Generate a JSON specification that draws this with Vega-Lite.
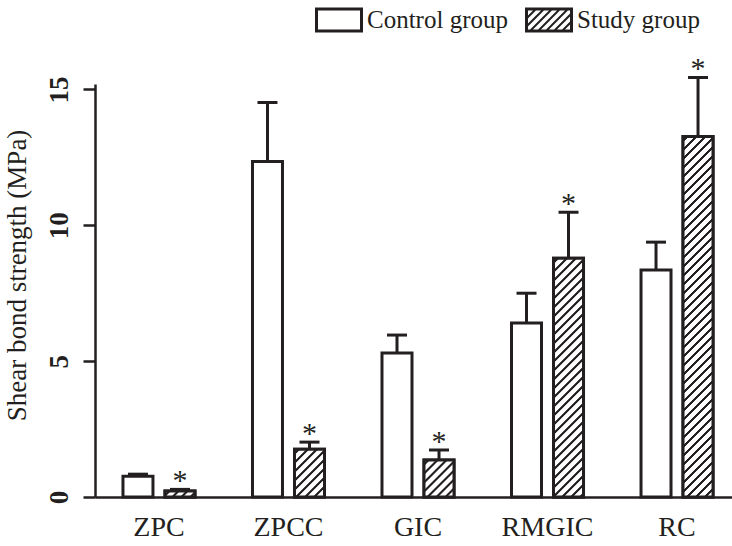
{
  "$schema": "https://vega.github.io/schema/vega-lite/v6.json",
  "width": 637,
  "height": 413,
  "autosize": {"type": "none"},
  "padding": {"left": 95, "top": 84, "right": 0, "bottom": 49},
  "background": "white",
  "config": {
    "view": {"stroke": null},
    "font": "Liberation Serif",
    "axis": {"domainColor": "#231f20", "tickColor": "#231f20", "labelColor": "#231f20", "titleColor": "#231f20", "grid": false, "domainWidth": 2.5, "tickWidth": 2.5}
  },
  "data": {
    "values": [
      {"material": "ZPC", "group": "Control group", "mean": 0.76, "upper": 0.84, "star": ""},
      {"material": "ZPC", "group": "Study group", "mean": 0.22, "upper": 0.28, "star": "*"},
      {"material": "ZPCC", "group": "Control group", "mean": 12.35, "upper": 14.52, "star": ""},
      {"material": "ZPCC", "group": "Study group", "mean": 1.76, "upper": 2.02, "star": "*"},
      {"material": "GIC", "group": "Control group", "mean": 5.3, "upper": 5.96, "star": ""},
      {"material": "GIC", "group": "Study group", "mean": 1.36, "upper": 1.73, "star": "*"},
      {"material": "RMGIC", "group": "Control group", "mean": 6.4, "upper": 7.5, "star": ""},
      {"material": "RMGIC", "group": "Study group", "mean": 8.79, "upper": 10.48, "star": "*"},
      {"material": "RC", "group": "Control group", "mean": 8.35, "upper": 9.38, "star": ""},
      {"material": "RC", "group": "Study group", "mean": 13.27, "upper": 15.44, "star": "*"}
    ]
  },
  "encoding": {
    "x": {
      "field": "material", "type": "nominal", "sort": null,
      "scale": {"range": [0, 646], "paddingInner": 0.444, "paddingOuter": 0.216},
      "axis": {"title": null, "labelAngle": 0, "ticks": false, "tickSize": 0, "labelPadding": 38, "labelBaseline": "alphabetic", "labelFontSize": 28, "labelFont": "Liberation Serif", "labelColor": "#231f20"}
    },
    "xOffset": {"field": "group", "type": "nominal", "sort": ["Control group", "Study group"], "scale": {"paddingInner": 0.286, "paddingOuter": 0}}
  },
  "layer": [
    {
      "mark": {"type": "bar", "stroke": "#231f20", "strokeWidth": 3, "fill": "#ffffff", "opacity": 1},
      "encoding": {
        "y": {
          "field": "mean", "type": "quantitative",
          "scale": {"domain": [0, 15.2], "nice": false},
          "axis": {"title": "Shear bond strength (MPa)", "values": [0, 5, 10, 15], "tickSize": 12, "labelAngle": -90, "labelAlign": "center", "labelBaseline": "alphabetic", "labelPadding": 16, "labelFontSize": 27, "labelFontWeight": "bold", "labelFont": "Liberation Serif", "titleFont": "Liberation Serif", "titleFontSize": 27, "titleFontWeight": "normal", "titleAngle": -90, "titleX": -70, "titleY": 191, "titleAlign": "center", "titleBaseline": "alphabetic"}
        }
      }
    },
    {
      "mark": {"type": "point", "filled": true, "color": "#231f20", "opacity": 0, "size": 2304, "strokeWidth": 0},
      "encoding": {
        "y": {"field": "mean", "type": "quantitative"},
        "shape": {
          "field": "group", "type": "nominal",
          "scale": {"domain": ["Control group", "Study group"], "range": [
            "M-1,-0.52H1V0.52H-1ZM-0.875,-0.395V0.395H0.875V-0.395Z",
            "M-1,-0.52H1V0.52H-1ZM-0.875,-0.395V0.395H0.875V-0.395ZM0.335,-0.395L0.455,-0.395L-0.335,0.395L-0.455,0.395ZM0.668,-0.395L0.788,-0.395L-0.002,0.395L-0.122,0.395ZM0.002,-0.395L0.122,-0.395L-0.668,0.395L-0.788,0.395ZM0.95,-0.343L0.95,-0.223L0.332,0.395L0.212,0.395ZM-0.95,0.343L-0.95,0.223L-0.332,-0.395L-0.212,-0.395ZM0.95,-0.01L0.95,0.11L0.665,0.395L0.545,0.395ZM-0.95,0.01L-0.95,-0.11L-0.665,-0.395L-0.545,-0.395Z"
          ]},
          "legend": {
            "title": null, "orient": "none", "direction": "horizontal", "legendX": 220, "legendY": -88,
            "symbolSize": 2304, "symbolOpacity": 1, "symbolStrokeWidth": 0, "symbolFillColor": "#231f20",
            "labelFont": "Liberation Serif", "labelFontSize": 25, "labelColor": "#231f20", "labelOffset": 4, "columnPadding": 17, "labelLimit": 300
          }
        }
      }
    },
    {
      "transform": [{"filter": "datum.group === 'Study group' && datum.material === 'ZPC'"}],
      "mark": {"type": "bar", "stroke": "#231f20", "strokeWidth": 3, "fill": {"gradient": "linear", "x1": 0, "y1": 0, "x2": 12.696, "y2": 2.5297, "stops": [
        {"offset":0.00631,"color":"#fff"},{"offset":0.00884,"color":"#231f20"},{"offset":0.01389,"color":"#231f20"},{"offset":0.01641,"color":"#fff"},
        {"offset":0.02904,"color":"#fff"},{"offset":0.03157,"color":"#231f20"},{"offset":0.03662,"color":"#231f20"},{"offset":0.03914,"color":"#fff"},
        {"offset":0.05177,"color":"#fff"},{"offset":0.05429,"color":"#231f20"},{"offset":0.05934,"color":"#231f20"},{"offset":0.06187,"color":"#fff"},
        {"offset":0.07449,"color":"#fff"},{"offset":0.07702,"color":"#231f20"},{"offset":0.08207,"color":"#231f20"},{"offset":0.08460,"color":"#fff"}
      ]}},
      "encoding": {"y": {"field": "mean", "type": "quantitative"}}
    },
    {
      "transform": [{"filter": "datum.group === 'Study group' && datum.material === 'ZPCC'"}],
      "mark": {"type": "bar", "stroke": "#231f20", "strokeWidth": 3, "fill": {"gradient": "linear", "x1": 0, "y1": 0, "x2": 3.7278, "y2": 5.9423, "stops": [
        {"offset":0.00631,"color":"#fff"},{"offset":0.00884,"color":"#231f20"},{"offset":0.01389,"color":"#231f20"},{"offset":0.01641,"color":"#fff"},
        {"offset":0.02904,"color":"#fff"},{"offset":0.03157,"color":"#231f20"},{"offset":0.03662,"color":"#231f20"},{"offset":0.03914,"color":"#fff"},
        {"offset":0.05177,"color":"#fff"},{"offset":0.05429,"color":"#231f20"},{"offset":0.05934,"color":"#231f20"},{"offset":0.06187,"color":"#fff"},
        {"offset":0.07449,"color":"#fff"},{"offset":0.07702,"color":"#231f20"},{"offset":0.08207,"color":"#231f20"},{"offset":0.08460,"color":"#fff"},
        {"offset":0.09722,"color":"#fff"},{"offset":0.09975,"color":"#231f20"},{"offset":0.10480,"color":"#231f20"},{"offset":0.10732,"color":"#fff"},
        {"offset":0.11995,"color":"#fff"},{"offset":0.12247,"color":"#231f20"},{"offset":0.12753,"color":"#231f20"},{"offset":0.13005,"color":"#fff"},
        {"offset":0.14268,"color":"#fff"},{"offset":0.14520,"color":"#231f20"},{"offset":0.15025,"color":"#231f20"},{"offset":0.15278,"color":"#fff"},
        {"offset":0.16540,"color":"#fff"},{"offset":0.16793,"color":"#231f20"},{"offset":0.17298,"color":"#231f20"},{"offset":0.17551,"color":"#fff"},
        {"offset":0.18813,"color":"#fff"},{"offset":0.19066,"color":"#231f20"},{"offset":0.19571,"color":"#231f20"},{"offset":0.19823,"color":"#fff"}
      ]}},
      "encoding": {"y": {"field": "mean", "type": "quantitative"}}
    },
    {
      "transform": [{"filter": "datum.group === 'Study group' && datum.material === 'GIC'"}],
      "mark": {"type": "bar", "stroke": "#231f20", "strokeWidth": 3, "fill": {"gradient": "linear", "x1": 0, "y1": 0, "x2": 5.2439, "y2": 6.4591, "stops": [
        {"offset":0.00631,"color":"#fff"},{"offset":0.00884,"color":"#231f20"},{"offset":0.01389,"color":"#231f20"},{"offset":0.01641,"color":"#fff"},
        {"offset":0.02904,"color":"#fff"},{"offset":0.03157,"color":"#231f20"},{"offset":0.03662,"color":"#231f20"},{"offset":0.03914,"color":"#fff"},
        {"offset":0.05177,"color":"#fff"},{"offset":0.05429,"color":"#231f20"},{"offset":0.05934,"color":"#231f20"},{"offset":0.06187,"color":"#fff"},
        {"offset":0.07449,"color":"#fff"},{"offset":0.07702,"color":"#231f20"},{"offset":0.08207,"color":"#231f20"},{"offset":0.08460,"color":"#fff"},
        {"offset":0.09722,"color":"#fff"},{"offset":0.09975,"color":"#231f20"},{"offset":0.10480,"color":"#231f20"},{"offset":0.10732,"color":"#fff"},
        {"offset":0.11995,"color":"#fff"},{"offset":0.12247,"color":"#231f20"},{"offset":0.12753,"color":"#231f20"},{"offset":0.13005,"color":"#fff"},
        {"offset":0.14268,"color":"#fff"},{"offset":0.14520,"color":"#231f20"},{"offset":0.15025,"color":"#231f20"},{"offset":0.15278,"color":"#fff"},
        {"offset":0.16540,"color":"#fff"},{"offset":0.16793,"color":"#231f20"},{"offset":0.17298,"color":"#231f20"},{"offset":0.17551,"color":"#fff"}
      ]}},
      "encoding": {"y": {"field": "mean", "type": "quantitative"}}
    },
    {
      "transform": [{"filter": "datum.group === 'Study group' && datum.material === 'RMGIC'"}],
      "mark": {"type": "bar", "stroke": "#231f20", "strokeWidth": 3, "fill": {"gradient": "linear", "x1": 0, "y1": 0, "x2": 0.20503, "y2": 1.6323, "stops": [
        {"offset":0.00631,"color":"#fff"},{"offset":0.00884,"color":"#231f20"},{"offset":0.01389,"color":"#231f20"},{"offset":0.01641,"color":"#fff"},
        {"offset":0.02904,"color":"#fff"},{"offset":0.03157,"color":"#231f20"},{"offset":0.03662,"color":"#231f20"},{"offset":0.03914,"color":"#fff"},
        {"offset":0.05177,"color":"#fff"},{"offset":0.05429,"color":"#231f20"},{"offset":0.05934,"color":"#231f20"},{"offset":0.06187,"color":"#fff"},
        {"offset":0.07449,"color":"#fff"},{"offset":0.07702,"color":"#231f20"},{"offset":0.08207,"color":"#231f20"},{"offset":0.08460,"color":"#fff"},
        {"offset":0.09722,"color":"#fff"},{"offset":0.09975,"color":"#231f20"},{"offset":0.10480,"color":"#231f20"},{"offset":0.10732,"color":"#fff"},
        {"offset":0.11995,"color":"#fff"},{"offset":0.12247,"color":"#231f20"},{"offset":0.12753,"color":"#231f20"},{"offset":0.13005,"color":"#fff"},
        {"offset":0.14268,"color":"#fff"},{"offset":0.14520,"color":"#231f20"},{"offset":0.15025,"color":"#231f20"},{"offset":0.15278,"color":"#fff"},
        {"offset":0.16540,"color":"#fff"},{"offset":0.16793,"color":"#231f20"},{"offset":0.17298,"color":"#231f20"},{"offset":0.17551,"color":"#fff"},
        {"offset":0.18813,"color":"#fff"},{"offset":0.19066,"color":"#231f20"},{"offset":0.19571,"color":"#231f20"},{"offset":0.19823,"color":"#fff"},
        {"offset":0.21086,"color":"#fff"},{"offset":0.21338,"color":"#231f20"},{"offset":0.21843,"color":"#231f20"},{"offset":0.22096,"color":"#fff"},
        {"offset":0.23359,"color":"#fff"},{"offset":0.23611,"color":"#231f20"},{"offset":0.24116,"color":"#231f20"},{"offset":0.24369,"color":"#fff"},
        {"offset":0.25631,"color":"#fff"},{"offset":0.25884,"color":"#231f20"},{"offset":0.26389,"color":"#231f20"},{"offset":0.26641,"color":"#fff"},
        {"offset":0.27904,"color":"#fff"},{"offset":0.28157,"color":"#231f20"},{"offset":0.28662,"color":"#231f20"},{"offset":0.28914,"color":"#fff"},
        {"offset":0.30177,"color":"#fff"},{"offset":0.30429,"color":"#231f20"},{"offset":0.30934,"color":"#231f20"},{"offset":0.31187,"color":"#fff"},
        {"offset":0.32449,"color":"#fff"},{"offset":0.32702,"color":"#231f20"},{"offset":0.33207,"color":"#231f20"},{"offset":0.33460,"color":"#fff"},
        {"offset":0.34722,"color":"#fff"},{"offset":0.34975,"color":"#231f20"},{"offset":0.35480,"color":"#231f20"},{"offset":0.35732,"color":"#fff"},
        {"offset":0.36995,"color":"#fff"},{"offset":0.37247,"color":"#231f20"},{"offset":0.37753,"color":"#231f20"},{"offset":0.38005,"color":"#fff"},
        {"offset":0.39268,"color":"#fff"},{"offset":0.39520,"color":"#231f20"},{"offset":0.40025,"color":"#231f20"},{"offset":0.40278,"color":"#fff"},
        {"offset":0.41540,"color":"#fff"},{"offset":0.41793,"color":"#231f20"},{"offset":0.42298,"color":"#231f20"},{"offset":0.42551,"color":"#fff"},
        {"offset":0.43813,"color":"#fff"},{"offset":0.44066,"color":"#231f20"},{"offset":0.44571,"color":"#231f20"},{"offset":0.44823,"color":"#fff"},
        {"offset":0.46086,"color":"#fff"},{"offset":0.46338,"color":"#231f20"},{"offset":0.46843,"color":"#231f20"},{"offset":0.47096,"color":"#fff"},
        {"offset":0.48359,"color":"#fff"},{"offset":0.48611,"color":"#231f20"},{"offset":0.49116,"color":"#231f20"},{"offset":0.49369,"color":"#fff"},
        {"offset":0.50631,"color":"#fff"},{"offset":0.50884,"color":"#231f20"},{"offset":0.51389,"color":"#231f20"},{"offset":0.51641,"color":"#fff"},
        {"offset":0.52904,"color":"#fff"},{"offset":0.53157,"color":"#231f20"},{"offset":0.53662,"color":"#231f20"},{"offset":0.53914,"color":"#fff"},
        {"offset":0.55177,"color":"#fff"},{"offset":0.55429,"color":"#231f20"},{"offset":0.55934,"color":"#231f20"},{"offset":0.56187,"color":"#fff"},
        {"offset":0.57449,"color":"#fff"},{"offset":0.57702,"color":"#231f20"},{"offset":0.58207,"color":"#231f20"},{"offset":0.58460,"color":"#fff"},
        {"offset":0.59722,"color":"#fff"},{"offset":0.59975,"color":"#231f20"},{"offset":0.60480,"color":"#231f20"},{"offset":0.60732,"color":"#fff"},
        {"offset":0.61995,"color":"#fff"},{"offset":0.62247,"color":"#231f20"},{"offset":0.62753,"color":"#231f20"},{"offset":0.63005,"color":"#fff"},
        {"offset":0.64268,"color":"#fff"},{"offset":0.64520,"color":"#231f20"},{"offset":0.65025,"color":"#231f20"},{"offset":0.65278,"color":"#fff"},
        {"offset":0.66540,"color":"#fff"},{"offset":0.66793,"color":"#231f20"},{"offset":0.67298,"color":"#231f20"},{"offset":0.67551,"color":"#fff"}
      ]}},
      "encoding": {"y": {"field": "mean", "type": "quantitative"}}
    },
    {
      "transform": [{"filter": "datum.group === 'Study group' && datum.material === 'RC'"}],
      "mark": {"type": "bar", "stroke": "#231f20", "strokeWidth": 3, "fill": {"gradient": "linear", "x1": 0, "y1": 0, "x2": 0.090754, "y2": 1.09073, "stops": [
        {"offset":0.00631,"color":"#fff"},{"offset":0.00884,"color":"#231f20"},{"offset":0.01389,"color":"#231f20"},{"offset":0.01641,"color":"#fff"},
        {"offset":0.02904,"color":"#fff"},{"offset":0.03157,"color":"#231f20"},{"offset":0.03662,"color":"#231f20"},{"offset":0.03914,"color":"#fff"},
        {"offset":0.05177,"color":"#fff"},{"offset":0.05429,"color":"#231f20"},{"offset":0.05934,"color":"#231f20"},{"offset":0.06187,"color":"#fff"},
        {"offset":0.07449,"color":"#fff"},{"offset":0.07702,"color":"#231f20"},{"offset":0.08207,"color":"#231f20"},{"offset":0.08460,"color":"#fff"},
        {"offset":0.09722,"color":"#fff"},{"offset":0.09975,"color":"#231f20"},{"offset":0.10480,"color":"#231f20"},{"offset":0.10732,"color":"#fff"},
        {"offset":0.11995,"color":"#fff"},{"offset":0.12247,"color":"#231f20"},{"offset":0.12753,"color":"#231f20"},{"offset":0.13005,"color":"#fff"},
        {"offset":0.14268,"color":"#fff"},{"offset":0.14520,"color":"#231f20"},{"offset":0.15025,"color":"#231f20"},{"offset":0.15278,"color":"#fff"},
        {"offset":0.16540,"color":"#fff"},{"offset":0.16793,"color":"#231f20"},{"offset":0.17298,"color":"#231f20"},{"offset":0.17551,"color":"#fff"},
        {"offset":0.18813,"color":"#fff"},{"offset":0.19066,"color":"#231f20"},{"offset":0.19571,"color":"#231f20"},{"offset":0.19823,"color":"#fff"},
        {"offset":0.21086,"color":"#fff"},{"offset":0.21338,"color":"#231f20"},{"offset":0.21843,"color":"#231f20"},{"offset":0.22096,"color":"#fff"},
        {"offset":0.23359,"color":"#fff"},{"offset":0.23611,"color":"#231f20"},{"offset":0.24116,"color":"#231f20"},{"offset":0.24369,"color":"#fff"},
        {"offset":0.25631,"color":"#fff"},{"offset":0.25884,"color":"#231f20"},{"offset":0.26389,"color":"#231f20"},{"offset":0.26641,"color":"#fff"},
        {"offset":0.27904,"color":"#fff"},{"offset":0.28157,"color":"#231f20"},{"offset":0.28662,"color":"#231f20"},{"offset":0.28914,"color":"#fff"},
        {"offset":0.30177,"color":"#fff"},{"offset":0.30429,"color":"#231f20"},{"offset":0.30934,"color":"#231f20"},{"offset":0.31187,"color":"#fff"},
        {"offset":0.32449,"color":"#fff"},{"offset":0.32702,"color":"#231f20"},{"offset":0.33207,"color":"#231f20"},{"offset":0.33460,"color":"#fff"},
        {"offset":0.34722,"color":"#fff"},{"offset":0.34975,"color":"#231f20"},{"offset":0.35480,"color":"#231f20"},{"offset":0.35732,"color":"#fff"},
        {"offset":0.36995,"color":"#fff"},{"offset":0.37247,"color":"#231f20"},{"offset":0.37753,"color":"#231f20"},{"offset":0.38005,"color":"#fff"},
        {"offset":0.39268,"color":"#fff"},{"offset":0.39520,"color":"#231f20"},{"offset":0.40025,"color":"#231f20"},{"offset":0.40278,"color":"#fff"},
        {"offset":0.41540,"color":"#fff"},{"offset":0.41793,"color":"#231f20"},{"offset":0.42298,"color":"#231f20"},{"offset":0.42551,"color":"#fff"},
        {"offset":0.43813,"color":"#fff"},{"offset":0.44066,"color":"#231f20"},{"offset":0.44571,"color":"#231f20"},{"offset":0.44823,"color":"#fff"},
        {"offset":0.46086,"color":"#fff"},{"offset":0.46338,"color":"#231f20"},{"offset":0.46843,"color":"#231f20"},{"offset":0.47096,"color":"#fff"},
        {"offset":0.48359,"color":"#fff"},{"offset":0.48611,"color":"#231f20"},{"offset":0.49116,"color":"#231f20"},{"offset":0.49369,"color":"#fff"},
        {"offset":0.50631,"color":"#fff"},{"offset":0.50884,"color":"#231f20"},{"offset":0.51389,"color":"#231f20"},{"offset":0.51641,"color":"#fff"},
        {"offset":0.52904,"color":"#fff"},{"offset":0.53157,"color":"#231f20"},{"offset":0.53662,"color":"#231f20"},{"offset":0.53914,"color":"#fff"},
        {"offset":0.55177,"color":"#fff"},{"offset":0.55429,"color":"#231f20"},{"offset":0.55934,"color":"#231f20"},{"offset":0.56187,"color":"#fff"},
        {"offset":0.57449,"color":"#fff"},{"offset":0.57702,"color":"#231f20"},{"offset":0.58207,"color":"#231f20"},{"offset":0.58460,"color":"#fff"},
        {"offset":0.59722,"color":"#fff"},{"offset":0.59975,"color":"#231f20"},{"offset":0.60480,"color":"#231f20"},{"offset":0.60732,"color":"#fff"},
        {"offset":0.61995,"color":"#fff"},{"offset":0.62247,"color":"#231f20"},{"offset":0.62753,"color":"#231f20"},{"offset":0.63005,"color":"#fff"},
        {"offset":0.64268,"color":"#fff"},{"offset":0.64520,"color":"#231f20"},{"offset":0.65025,"color":"#231f20"},{"offset":0.65278,"color":"#fff"},
        {"offset":0.66540,"color":"#fff"},{"offset":0.66793,"color":"#231f20"},{"offset":0.67298,"color":"#231f20"},{"offset":0.67551,"color":"#fff"},
        {"offset":0.68813,"color":"#fff"},{"offset":0.69066,"color":"#231f20"},{"offset":0.69571,"color":"#231f20"},{"offset":0.69823,"color":"#fff"},
        {"offset":0.71086,"color":"#fff"},{"offset":0.71338,"color":"#231f20"},{"offset":0.71843,"color":"#231f20"},{"offset":0.72096,"color":"#fff"},
        {"offset":0.73359,"color":"#fff"},{"offset":0.73611,"color":"#231f20"},{"offset":0.74116,"color":"#231f20"},{"offset":0.74369,"color":"#fff"},
        {"offset":0.75631,"color":"#fff"},{"offset":0.75884,"color":"#231f20"},{"offset":0.76389,"color":"#231f20"},{"offset":0.76641,"color":"#fff"},
        {"offset":0.77904,"color":"#fff"},{"offset":0.78157,"color":"#231f20"},{"offset":0.78662,"color":"#231f20"},{"offset":0.78914,"color":"#fff"},
        {"offset":0.80177,"color":"#fff"},{"offset":0.80429,"color":"#231f20"},{"offset":0.80934,"color":"#231f20"},{"offset":0.81187,"color":"#fff"},
        {"offset":0.82449,"color":"#fff"},{"offset":0.82702,"color":"#231f20"},{"offset":0.83207,"color":"#231f20"},{"offset":0.83460,"color":"#fff"},
        {"offset":0.84722,"color":"#fff"},{"offset":0.84975,"color":"#231f20"},{"offset":0.85480,"color":"#231f20"},{"offset":0.85732,"color":"#fff"},
        {"offset":0.86995,"color":"#fff"},{"offset":0.87247,"color":"#231f20"},{"offset":0.87753,"color":"#231f20"},{"offset":0.88005,"color":"#fff"},
        {"offset":0.89268,"color":"#fff"},{"offset":0.89520,"color":"#231f20"},{"offset":0.90025,"color":"#231f20"},{"offset":0.90278,"color":"#fff"},
        {"offset":0.91540,"color":"#fff"},{"offset":0.91793,"color":"#231f20"},{"offset":0.92298,"color":"#231f20"},{"offset":0.92551,"color":"#fff"},
        {"offset":0.93813,"color":"#fff"},{"offset":0.94066,"color":"#231f20"},{"offset":0.94571,"color":"#231f20"},{"offset":0.94823,"color":"#fff"},
        {"offset":0.96086,"color":"#fff"},{"offset":0.96338,"color":"#231f20"},{"offset":0.96843,"color":"#231f20"},{"offset":0.97096,"color":"#fff"},
        {"offset":0.98359,"color":"#fff"},{"offset":0.98611,"color":"#231f20"},{"offset":0.99116,"color":"#231f20"},{"offset":0.99369,"color":"#fff"}
      ]}},
      "encoding": {"y": {"field": "mean", "type": "quantitative"}}
    },
    {
      "mark": {"type": "rule", "stroke": "#231f20", "strokeWidth": 3},
      "encoding": {
        "y": {"field": "mean", "type": "quantitative"},
        "y2": {"field": "upper"}
      }
    },
    {
      "mark": {"type": "tick", "orient": "horizontal", "size": 20, "thickness": 3, "color": "#231f20", "opacity": 1},
      "encoding": {
        "y": {"field": "upper", "type": "quantitative"}
      }
    },
    {
      "mark": {"type": "text", "fontSize": 30, "baseline": "alphabetic", "dy": 1, "color": "#231f20", "font": "Liberation Serif"},
      "encoding": {
        "y": {"field": "upper", "type": "quantitative"},
        "text": {"field": "star"}
      }
    }
  ]
}
